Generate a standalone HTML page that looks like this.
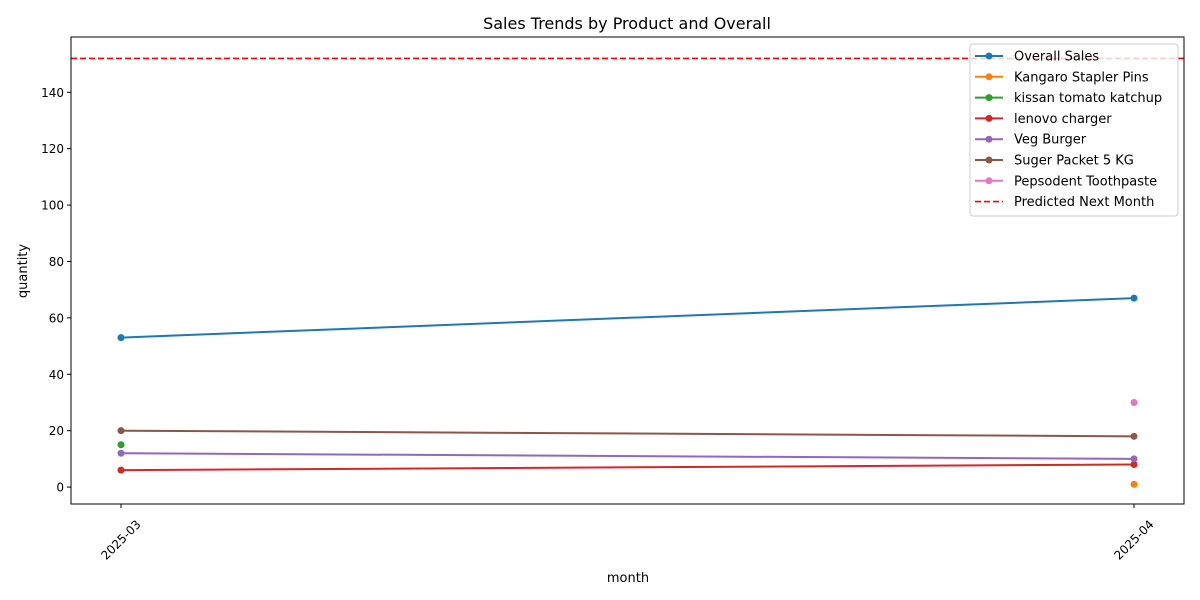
<!DOCTYPE html>
<html><head><meta charset="utf-8"><style>
body{margin:0;background:#fff}
svg{display:block;font-family:"DejaVu Sans","Liberation Sans",sans-serif}
</style></head><body>
<svg id="chart" width="1200" height="600">
<rect width="1200" height="600" fill="#fff"/>
<text x="627" y="29" text-anchor="middle" font-size="16">Sales Trends by Product and Overall</text>
<text x="628" y="582" text-anchor="middle" font-size="13">month</text>
<text transform="translate(27,271) rotate(-90)" text-anchor="middle" font-size="13">quantity</text>
<g id="plot"></g>
</svg>
<script>
const months = ["2025-03","2025-04"];
const yTicks = [0,20,40,60,80,100,120,140];
const seriesNames = ["Overall Sales","Kangaro Stapler Pins","kissan tomato katchup","lenovo charger","Veg Burger","Suger Packet 5 KG","Pepsodent Toothpaste"];
const seriesColors = ["#1f77b4","#ff7f0e","#2ca02c","#d62728","#9467bd","#8c564b","#e377c2"];
const overallSales = [53,67];
const kangaroPins = [null,1];
const kissanKatchup = [15,null];
const lenovoCharger = [6,8];
const vegBurger = [12,10];
const sugerPacket = [20,18];
const pepsodent = [null,30];
const predictedNext = 152;
const seriesValues = [overallSales,kangaroPins,kissanKatchup,lenovoCharger,vegBurger,sugerPacket,pepsodent];

const NS="http://www.w3.org/2000/svg";
const L=71,R=1184,T=37,B=504;
const yMin=-6,yMax=159.6;
function xs(i){return 121+i*(1134-121)/(months.length-1);}
function ys(v){return B-(v-yMin)/(yMax-yMin)*(B-T);}
const g=document.getElementById('plot');
function mk(tag,attrs,parent){const e=document.createElementNS(NS,tag);for(const k in attrs)e.setAttribute(k,attrs[k]);(parent||g).appendChild(e);return e;}

yTicks.forEach(v=>{
  const y=ys(v);
  const t=mk('line',{x1:L-4,x2:L,y1:y,y2:y,stroke:'#000'});
  
  
  const lb=mk('text',{x:L-7,y:y+4.5,'text-anchor':'end','font-size':12});
  lb.textContent=v;
  
  
});
months.forEach((m,i)=>{
  const x=xs(i);
  const t=mk('line',{x1:x,x2:x,y1:B,y2:B+4,stroke:'#000'});
  
  
  const lb=mk('text',{transform:`translate(${x},${B+36}) rotate(-45)`,y:4,'text-anchor':'middle','font-size':12});
  lb.textContent=m;
  
  
});
seriesValues.forEach((vals,si)=>{
  const c=seriesColors[si];
  const pts=[];
  vals.forEach((v,i)=>{if(v!==null)pts.push([xs(i),ys(v)]);});
  if(pts.length>1){
    const ln=mk('polyline',{points:pts.map(p=>p.join(',')).join(' '),fill:'none',stroke:c,'stroke-width':2});
    
    
  }
  pts.forEach(p=>{
    const d=mk('circle',{cx:p[0],cy:p[1],r:3.5,fill:c});
    
    
  });
});
const pl=mk('line',{x1:L,x2:R,y1:ys(predictedNext),y2:ys(predictedNext),stroke:'#ff0000','stroke-width':1.6,'stroke-dasharray':'6,3'});


const fr=mk('rect',{x:L,y:T,width:R-L,height:B-T,fill:'none',stroke:'#000','stroke-width':1});


const lg=mk('g',{});


mk('rect',{x:970,y:44,width:208,height:172,rx:3,fill:'#fff','fill-opacity':0.8,stroke:'#ccc'},lg);
const legNames=seriesNames.concat(["Predicted Next Month"]);
legNames.forEach((n,i)=>{
  const y=56+i*20.8;
  const e=mk('g',{},lg);
  
  
  if(i<seriesNames.length){
    mk('line',{x1:975,x2:1003,y1:y,y2:y,stroke:seriesColors[i],'stroke-width':2},e);
    mk('circle',{cx:989,cy:y,r:3.5,fill:seriesColors[i]},e);
  } else {
    mk('line',{x1:975,x2:1003,y1:y,y2:y,stroke:'#ff0000','stroke-width':1.6,'stroke-dasharray':'6,3'},e);
  }
  const t=mk('text',{x:1014,y:y+4.5,'font-size':13},e);
  t.textContent=n;
});
</script>
</body></html>
